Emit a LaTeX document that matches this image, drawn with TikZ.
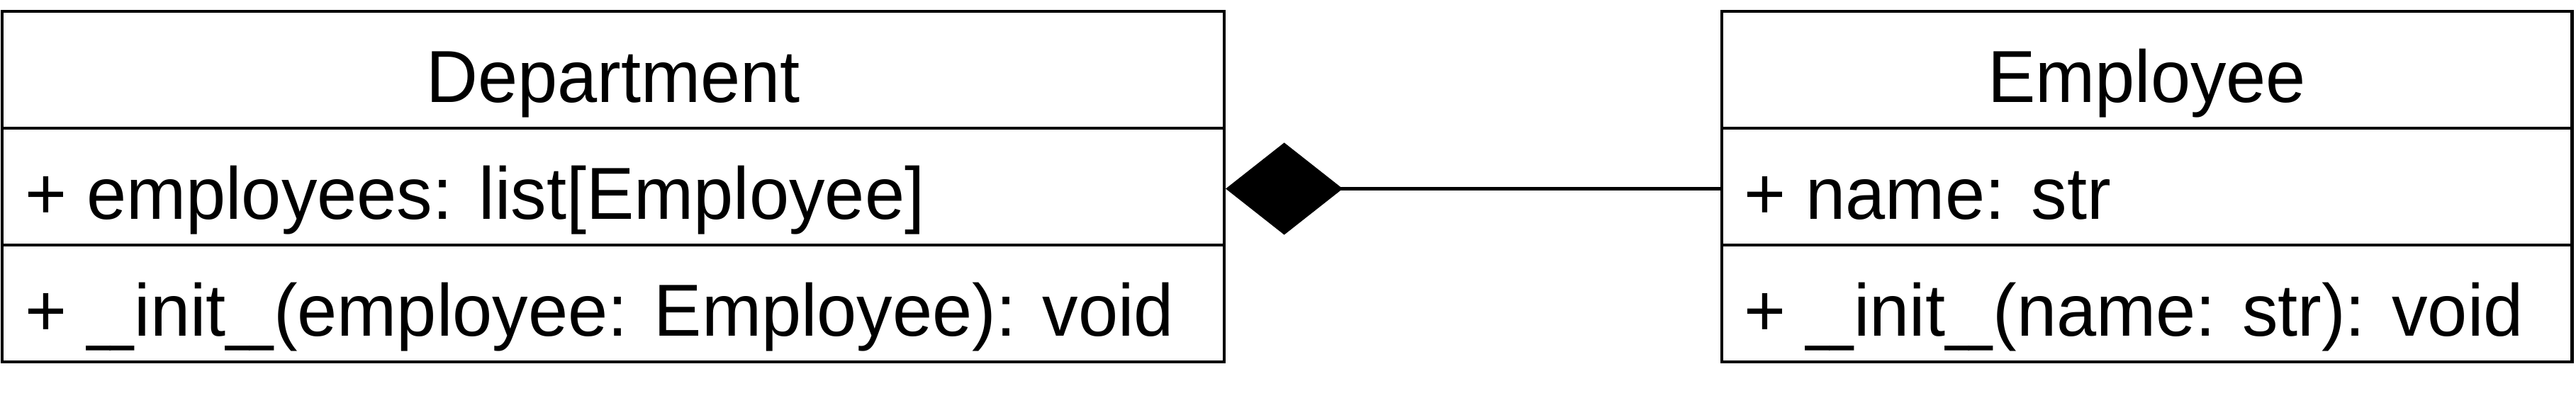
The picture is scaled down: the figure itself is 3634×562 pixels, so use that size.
\documentclass[tikz,border=0pt]{standalone}
\usepackage{fontspec}
\setmainfont{Liberation Sans}[FakeStretch=0.97]
\usepackage{tikz}
\usetikzlibrary{positioning}
\usetikzlibrary{shapes,arrows.meta}
\tikzstyle{classrow} = [rectangle, draw, very thick, inner sep=0pt, minimum height=1.65cm]
\tikzstyle{classname} = [inner sep=0pt, anchor=base]
\tikzstyle{membertext} = [inner sep=0pt, anchor=base west]
\newcommand{\dund}{\scalebox{0.6}[1]{\_\_}}

\begin{document}
\begin{tikzpicture}[x=0.01cm, y=-0.01cm, font=\fontsize{29.6pt}{36pt}\selectfont]

\useasboundingbox (0,0) rectangle (3634,562);

\node [classrow, minimum width=17.23cm] at (865,98.5) (d1) {};
\node [classrow, minimum width=17.23cm] at (865,263.5) (d2) {};
\node [classrow, minimum width=17.23cm] at (865,428.5) (d3) {};

\node [classrow, minimum width=11.99cm] at (3028.5,98.5) (e1) {};
\node [classrow, minimum width=11.99cm] at (3028.5,263.5) (e2) {};
\node [classrow, minimum width=11.99cm] at (3028.5,428.5) (e3) {};

%% texts

\node [classname] at (865,145) (dname) {Department};
\node [membertext] at (34.5,310) (dattr) {+ employees: list[Employee]};
\node [membertext] at (34.5,475) (dop) {+ \dund init\dund(employee: Employee): void};

\node [classname] at (3028.5,145) (ename) {Employee};
\node [membertext] at (2460,310) (eattr) {+ name: str};
\node [membertext] at (2460,475) (eop) {+ \dund init\dund(name: str): void};

%% composition

\path [draw, very thick, {Diamond[length=1.65cm, width=1.3cm]}-] ([yshift=-0.03cm]d2.east) to ([yshift=-0.03cm]e2.west);

\end{tikzpicture}
\end{document}
